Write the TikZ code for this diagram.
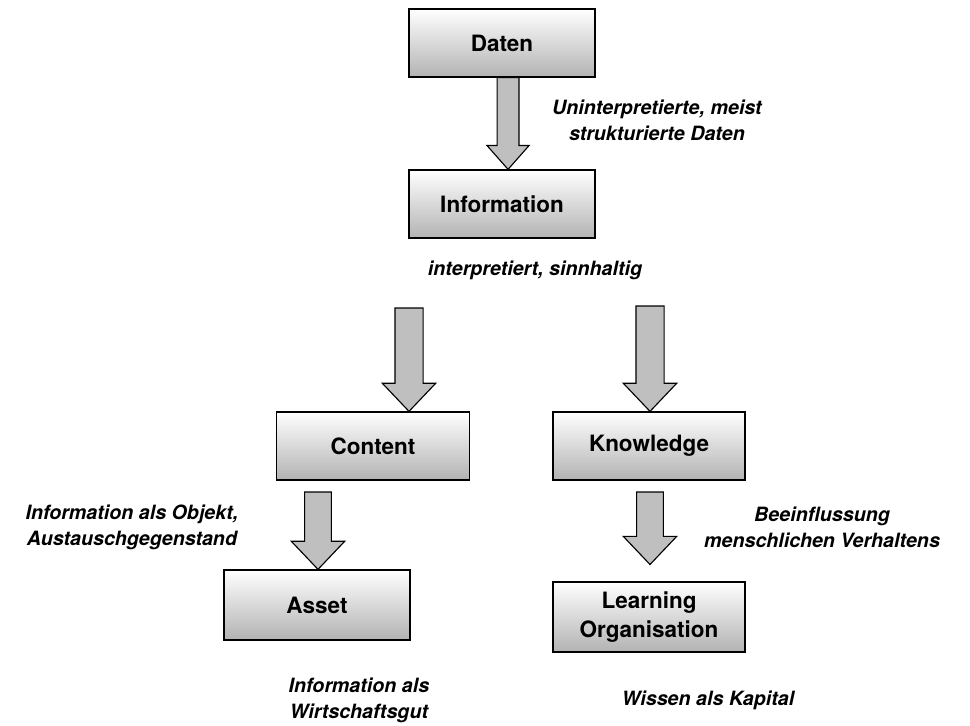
\documentclass[tikz,border=0pt]{standalone}
\usepackage{fontspec}
\setmainfont{TeX Gyre Heros}
\usetikzlibrary{calc}

\begin{document}
\begin{tikzpicture}[x=0.025cm,y=-0.025cm,
  bx/.style={draw,line width=0.9pt,top color=white,bottom color=gray!60,minimum width=#1,minimum height=1.7cm,align=center,inner sep=0pt,font=\fontsize{16}{20}\selectfont\bfseries},
  lab/.style={align=center,font=\fontsize{14}{18.4}\selectfont\bfseries\itshape},
  fat/.style n args={3}{draw,line width=0.8pt,fill=gray!50,to path={let \p1=(\tikztostart),\p2=(\tikztotarget) in
    (\x1-#1,\y1) -- (\x1-#1,\y2+#3) -- (\x1-#2,\y2+#3) -- (\x1,\y2) -- (\x1+#2,\y2+#3) -- (\x1+#1,\y2+#3) -- (\x1+#1,\y1) -- cycle}}]
\useasboundingbox (0,0) rectangle (970,725);
% boxes
\node[bx=4.65cm] (daten) at (502,43) {Daten};
\node[bx=4.65cm] (info) at (502,204) {Information};
\node[bx=4.825cm] (content) at (373,446) {Content};
\node[bx=4.8cm] (knowledge) at (649,446) {Knowledge};
\node[bx=4.65cm,minimum height=1.75cm] (asset) at (317,605) {Asset};
\node[bx=4.8cm,minimum height=1.75cm] (learning) at (649,617) {Learning\\Organisation};
% labels
\node[lab] (l1) at (657,120) {Uninterpretierte, meist\\strukturierte Daten};
\node[lab] (l2) at (535,270) {interpretiert, sinnhaltig};
\node[lab] (l3) at (132,527) {Information als Objekt,\\Austauschgegenstand};
\node[lab] (l4) at (822,527) {Beeinflussung\\menschlichen Verhaltens};
\node[lab] (l5) at (359,700) {Information als\\Wirtschaftsgut};
\node[lab] (l6) at (708,700) {Wissen als Kapital};
% arrows
\coordinate (t1) at (409,308);
\coordinate (t2) at (650,306);
\coordinate (t3) at (318,492);
\coordinate (t4) at (650,492);
\draw[fat={7.8pt}{15pt}{17pt}] ([xshift=4.3pt]daten.south) to ([xshift=4.3pt]info.north);
\draw[fat={10pt}{19pt}{20pt}] (t1) to (t1 |- content.north);
\draw[fat={10pt}{19pt}{20pt}] (t2) to (t2 |- knowledge.north);
\draw[fat={9.5pt}{19pt}{20pt}] (t3) to (t3 |- asset.north);
\draw[fat={9.5pt}{19pt}{20pt}] (t4) to ([yshift=12pt]t4 |- learning.north);
\end{tikzpicture}
\end{document}
